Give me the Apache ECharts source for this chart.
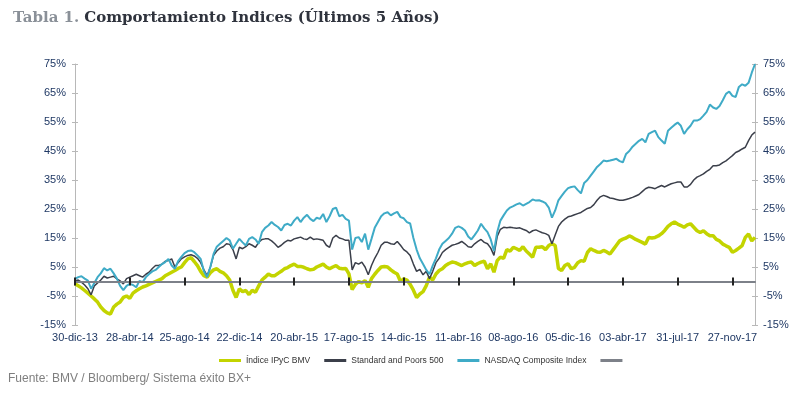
<!DOCTYPE html>
<html>
<head>
<meta charset="utf-8">
<script src="https://cdn.jsdelivr.net/npm/echarts@6/dist/echarts.min.js"></script>
<style>html,body{margin:0;padding:0;background:#fff;}#chart{width:797px;height:393px;}</style>
</head>
<body>
<div id="chart"></div>
<script>
// Weekly observations starting 30-dic-13
const startDate = [2013, 11, 30];
const monthsEs = ['ene','feb','mar','abr','may','jun','jul','ago','sep','oct','nov','dic'];
const seriesNames = ['Índice IPyC BMV', 'Standard and Poors 500', 'NASDAQ Composite Index', ' '];
const yTicks = [-15, -5, 5, 15, 25, 35, 45, 55, 65, 75];

const ipc = [
-0.8,-1.5,-2.2,-3.1,-4.0,-5.0,-6.0,-7.1,-8.8,-10.0,
-10.8,-11.2,-8.8,-7.8,-7.1,-5.5,-5.0,-5.8,-4.0,-3.2,
-2.5,-1.9,-1.5,-1.0,-0.5,0.0,0.5,1.0,2.0,2.6,
3.2,3.8,4.5,5.0,6.5,7.8,8.2,6.9,5.5,3.5,
2.0,1.5,3.0,4.0,4.4,3.5,3.0,2.0,0.5,-3.0,
-5.5,-2.5,-3.5,-3.1,-4.5,-3.0,-3.7,-1.5,0.5,1.5,
2.6,2.0,2.0,2.8,3.5,4.4,4.8,5.5,6.0,5.2,
5.2,4.9,4.4,4.0,4.2,5.0,5.5,6.0,5.0,4.4,
5.0,5.5,4.6,4.4,4.5,2.6,-2.8,-1.0,0.0,-0.5,
0.3,-2.0,1.0,2.5,3.8,5.0,5.2,5.0,4.0,3.2,
2.6,0.0,0.9,0.5,-1.0,-3.0,-5.5,-4.3,-3.5,-1.4,
1.5,0.5,2.6,3.8,4.4,5.5,6.2,6.7,6.5,6.0,
5.5,6.1,6.5,6.7,5.5,6.2,6.7,7.0,4.4,6.1,
3.2,7.2,8.4,8.0,11.0,10.5,11.8,11.3,10.7,12.0,
10.5,9.5,8.4,11.8,11.8,12.0,11.0,12.4,13.0,12.4,
4.5,3.8,5.5,6.1,4.4,4.9,6.5,7.2,7.0,10.0,
11.3,10.7,10.2,10.1,10.7,10.2,9.5,11.0,12.5,14.0,
14.6,15.0,15.7,15.2,14.5,14.0,13.5,12.9,15.2,15.0,
15.2,15.7,16.5,17.6,19.0,19.9,20.5,19.8,19.3,18.7,
19.5,19.9,18.7,17.5,16.9,17.5,16.5,15.8,15.8,14.5,
14.0,12.9,12.3,11.8,10.1,10.7,11.5,12.4,15.2,16.4,
14.0,15.2
];

const sp500 = [
0.3,0.5,-0.2,-1.2,-2.5,-4.6,-1.5,-0.5,0.5,1.8,
1.2,1.5,1.8,0.9,0.2,-0.8,1.0,1.5,2.0,2.5,
2.0,1.5,2.5,3.2,4.5,5.5,5.5,6.0,7.0,7.2,
7.8,5.0,6.5,7.8,8.5,9.0,9.2,8.8,8.0,6.5,
4.0,2.0,5.0,9.0,10.5,11.5,12.0,13.0,12.8,11.0,
7.8,11.8,11.3,12.0,13.0,12.5,11.8,13.5,14.5,14.7,
14.7,14.0,13.0,11.8,12.5,13.5,14.2,14.0,14.7,15.0,
15.3,14.7,14.5,15.3,14.5,14.7,14.5,14.2,12.5,11.8,
15.0,15.9,15.0,14.7,14.2,14.2,4.0,6.5,6.0,6.7,
5.0,2.3,5.5,8.0,10.0,12.5,13.5,13.5,13.0,12.8,
13.8,12.5,11.0,10.2,9.0,6.0,3.5,4.2,2.3,3.5,
1.0,3.5,6.5,8.0,10.0,11.0,11.8,12.5,12.8,13.2,
13.8,13.0,12.0,11.8,13.0,13.8,14.5,13.5,13.0,11.5,
9.0,15.5,18.0,18.7,18.5,18.7,18.5,18.4,18.5,18.0,
17.6,16.8,17.5,17.8,17.3,16.8,16.5,15.9,13.0,16.0,
19.0,20.5,21.5,22.3,22.6,23.0,23.4,23.8,24.5,25.2,
25.5,26.5,28.0,29.2,29.7,29.3,28.8,28.6,28.3,28.0,
28.0,28.3,28.6,29.0,29.5,30.0,31.0,32.0,32.5,32.3,
32.0,32.6,33.1,32.6,33.2,33.7,34.0,34.3,34.3,32.6,
32.6,33.5,35.0,36.0,36.5,37.1,38.0,38.7,39.9,39.9,
40.2,41.0,41.6,42.5,43.4,44.5,45.0,45.7,46.3,48.6,
50.5,51.5
];

const nasdaq = [
0.9,1.5,1.8,1.0,0.3,-2.5,-0.5,1.5,2.8,4.6,
3.8,4.4,2.8,1.0,-1.5,-3.0,-1.5,-0.8,-1.2,-2.0,
0.2,-0.2,1.5,2.6,3.5,4.0,5.0,6.0,6.7,7.8,
5.5,4.4,7.0,8.5,9.8,10.5,10.7,10.1,9.0,7.8,
3.5,1.5,5.0,9.5,12.0,13.0,14.0,15.0,14.2,11.3,
13.0,14.7,13.5,12.4,14.7,15.3,14.5,13.0,17.0,18.5,
19.3,20.5,19.5,18.8,17.6,19.5,19.9,19.3,21.0,22.2,
20.5,22.0,23.0,21.6,20.8,22.0,21.6,23.3,20.5,22.5,
25.0,25.5,22.5,23.0,21.6,21.0,11.0,15.0,15.3,13.6,
16.5,11.0,14.7,18.5,20.5,22.5,23.5,23.9,22.8,23.5,
24.0,22.2,21.8,20.5,20.0,15.0,11.0,8.0,6.0,4.0,
2.5,5.5,8.0,11.0,13.0,14.0,15.0,16.5,18.5,19.0,
18.5,17.6,15.5,14.5,16.0,17.6,19.9,18.3,17.0,14.5,
10.5,17.0,21.0,22.8,24.5,25.5,26.0,26.6,27.0,26.2,
26.8,27.4,28.3,27.9,28.0,27.6,27.0,25.5,22.0,24.5,
28.0,29.5,31.0,32.2,32.6,32.8,31.5,30.4,34.0,35.0,
36.5,38.0,39.5,40.5,41.7,41.5,41.7,42.0,42.3,41.5,
41.1,44.0,45.0,46.5,47.5,48.5,49.2,48.0,50.9,51.5,
52.0,49.8,48.6,47.5,52.0,53.0,54.0,54.8,53.7,50.9,
52.5,53.7,55.5,55.5,56.0,57.2,58.5,61.0,60.0,59.5,
60.5,62.5,64.7,65.5,64.0,63.6,67.1,68.0,67.5,68.5,
72.0,75.0
];

// category labels (weekly dates)
const dates = [];
for (let i = 0; i < ipc.length; i++) {
  const d = new Date(Date.UTC(startDate[0], startDate[1], startDate[2] + 7 * i));
  const dd = String(d.getUTCDate()).padStart(2, '0');
  const yy = String(d.getUTCFullYear()).slice(2);
  dates.push(dd + '-' + monthsEs[d.getUTCMonth()] + '-' + yy);
}

const labelColor = '#1f3864';
const axisGray = '#b8b8b8';
const FONT = '"Liberation Sans", Arial, sans-serif';

const yBase = {
  type: 'value', min: yTicks[0], max: yTicks[yTicks.length - 1], interval: 10,
  splitLine: { show: false }
};

const chart = echarts.init(document.getElementById('chart'), null, { renderer: 'canvas' });
chart.setOption({
  animation: false,
  backgroundColor: '#ffffff',
  title: {
    left: 8, top: 4,
    text: '{a|Tabla 1.} {b|Comportamiento Indices (Últimos 5 Años)}',
    textStyle: {
      rich: {
        a: { fontFamily: '"DejaVu Serif", serif', fontWeight: 'bold', fontSize: 15, color: '#8a9098' },
        b: { fontFamily: '"DejaVu Serif", serif', fontWeight: 'bold', fontSize: 15, color: '#2f333d' }
      }
    }
  },
  graphic: [{
    type: 'text', left: 8, top: 373,
    style: { text: 'Fuente: BMV / Bloomberg/ Sistema éxito BX+', fill: '#7f7f7f', font: '12px ' + FONT }
  }],
  legend: {
    left: 214, top: 351, itemWidth: 22, itemHeight: 3, itemGap: 14, icon: 'rect',
    textStyle: { fontSize: 8.5, color: '#333333', fontFamily: FONT },
    data: seriesNames
  },
  grid: { left: 75, right: 42, top: 64, bottom: 68 },
  xAxis: [
    { type: 'category', data: dates, boundaryGap: false, position: 'bottom',
      axisLine: { show: false, onZero: false }, axisTick: { show: false }, splitLine: { show: false },
      axisLabel: { interval: 16, color: labelColor, fontSize: 11, fontFamily: FONT, margin: 7 } },
    { type: 'category', data: dates, boundaryGap: false, position: 'bottom', z: 5,
      axisLine: { show: true, onZero: true, lineStyle: { color: '#7d8189', width: 2 } },
      axisTick: { show: true, interval: 16, inside: true, length: 4, lineStyle: { color: '#222222', width: 2 } },
      axisLabel: { show: false }, splitLine: { show: false } },
    { type: 'category', data: dates, boundaryGap: false, position: 'bottom', z: 5,
      axisLine: { show: false, onZero: true },
      axisTick: { show: true, interval: 16, inside: false, length: 4, lineStyle: { color: '#222222', width: 2 } },
      axisLabel: { show: false }, splitLine: { show: false } }
  ],
  yAxis: [
    Object.assign({}, yBase, { position: 'left',
      axisLine: { show: true, lineStyle: { color: axisGray } },
      axisTick: { show: true, length: 3, lineStyle: { color: axisGray } },
      axisLabel: { formatter: '{value}%', color: labelColor, fontSize: 11, fontFamily: FONT, margin: 9 } }),
    Object.assign({}, yBase, { position: 'right',
      axisLine: { show: true, lineStyle: { color: axisGray } },
      axisTick: { show: true, length: 3, lineStyle: { color: axisGray } },
      axisLabel: { formatter: '{value}%', color: labelColor, fontSize: 11, fontFamily: FONT, margin: 8 } }),
    Object.assign({}, yBase, { position: 'left',
      axisLine: { show: false }, axisLabel: { show: false },
      axisTick: { show: true, inside: true, length: 3, lineStyle: { color: axisGray } } }),
    Object.assign({}, yBase, { position: 'right',
      axisLine: { show: false }, axisLabel: { show: false },
      axisTick: { show: true, inside: true, length: 3, lineStyle: { color: axisGray } } })
  ],
  series: [
    { name: seriesNames[0], type: 'line', data: ipc, showSymbol: false, symbol: 'none',
      color: '#c3d400', lineStyle: { width: 3.5, color: '#c3d400' } },
    { name: seriesNames[1], type: 'line', data: sp500, showSymbol: false, symbol: 'none',
      color: '#3b3f4a', lineStyle: { width: 1.5, color: '#3b3f4a' } },
    { name: seriesNames[2], type: 'line', data: nasdaq, showSymbol: false, symbol: 'none',
      color: '#3fabc7', lineStyle: { width: 2, color: '#3fabc7' } },
    { name: seriesNames[3], type: 'line', data: [], showSymbol: false, symbol: 'none',
      color: '#7d8189', lineStyle: { width: 2, color: '#7d8189' } }
  ]
});
</script>
</body>
</html>
